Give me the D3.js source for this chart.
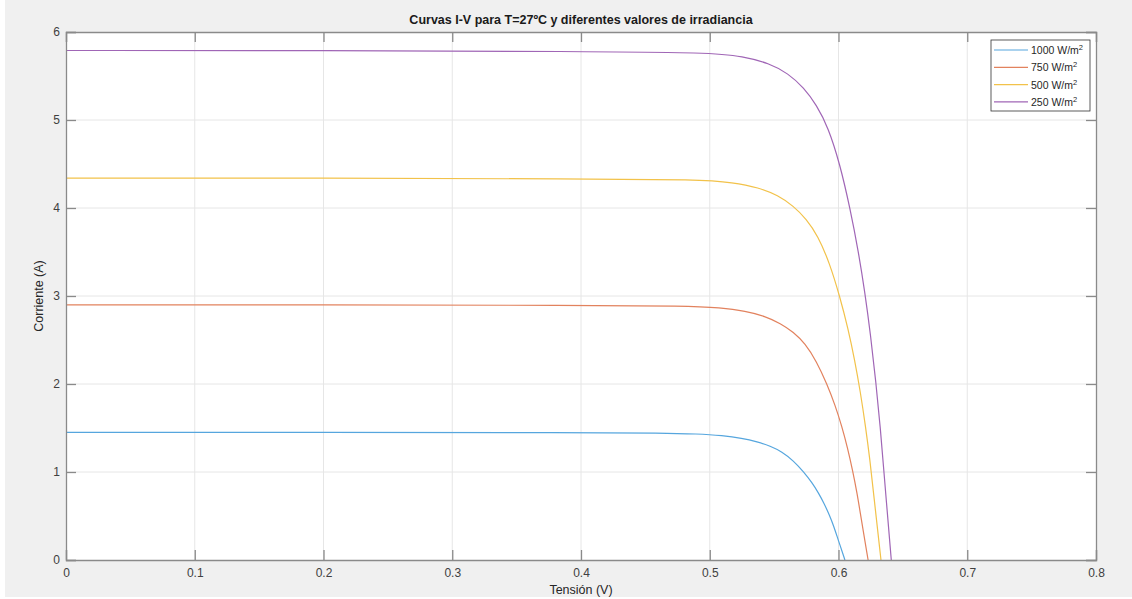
<!DOCTYPE html>
<html>
<head>
<meta charset="utf-8">
<script src="https://cdn.jsdelivr.net/npm/d3@7"></script>
<style>
  body { margin: 0; background: #fff; }
  text { font-family: "Liberation Sans", Arial, sans-serif; }
</style>
</head>
<body>
<div class="chart"></div>
<script>
// data
const labels = ["1000", "750", "500", "250"];
const colors = ["#56a6de", "#e2825e", "#f2c24a", "#a066b6"];

const v1000 = [0, 0.2, 0.4, 0.464, 0.490, 0.510, 0.525, 0.537, 0.547, 0.556, 0.565, 0.573, 0.5795, 0.5845, 0.589, 0.593, 0.5965, 0.5992, 0.605];
const i1000 = [1.45, 1.45, 1.447, 1.444, 1.433, 1.414, 1.385, 1.344, 1.295, 1.231, 1.128, 1.001, 0.877, 0.761, 0.638, 0.508, 0.377, 0.254, 0];

const v750 = [0, 0.2, 0.4, 0.482, 0.508, 0.528, 0.543, 0.555, 0.565, 0.574, 0.583, 0.591, 0.5975, 0.6025, 0.607, 0.611, 0.6145, 0.6172, 0.623];
const i750 = [2.90, 2.90, 2.894, 2.888, 2.867, 2.828, 2.770, 2.688, 2.590, 2.462, 2.256, 2.001, 1.755, 1.523, 1.276, 1.015, 0.754, 0.508, 0];

const v500 = [0, 0.2, 0.4, 0.492, 0.518, 0.538, 0.553, 0.565, 0.575, 0.584, 0.593, 0.601, 0.6075, 0.6125, 0.617, 0.621, 0.6245, 0.6272, 0.633];
const i500 = [4.34, 4.34, 4.331, 4.323, 4.290, 4.232, 4.145, 4.023, 3.876, 3.685, 3.377, 2.995, 2.626, 2.279, 1.910, 1.519, 1.128, 0.760, 0];

const v250 = [0, 0.2, 0.4, 0.500, 0.526, 0.546, 0.561, 0.573, 0.583, 0.592, 0.601, 0.609, 0.6155, 0.6205, 0.625, 0.629, 0.6325, 0.6352, 0.641];
const i250 = [5.79, 5.79, 5.778, 5.767, 5.723, 5.645, 5.529, 5.367, 5.170, 4.916, 4.505, 3.995, 3.503, 3.040, 2.548, 2.027, 1.505, 1.013, 0];

const xTicks = [0, 0.1, 0.2, 0.3, 0.4, 0.5, 0.6, 0.7, 0.8];
const yTicks = [0, 1, 2, 3, 4, 5, 6];

const series = [
  {v: v1000, i: i1000},
  {v: v750, i: i750},
  {v: v500, i: i500},
  {v: v250, i: i250}
].map((s, k) => ({label: labels[k], color: colors[k], pts: s.v.map((d, j) => [d, s.i[j]])}));

const W = 1132, H = 599;
const margin = {top: 32, right: 36, bottom: 39, left: 66};
const width = W - margin.left - margin.right;
const height = H - margin.top - margin.bottom;

const root = d3.select('.chart').append('svg')
    .attr("width", W)
    .attr("height", H);

root.append("rect").attr("x", 5).attr("y", 0).attr("width", W - 5).attr("height", H - 2).attr("fill", "#f0f0f0");

const svg = root.append("g")
    .attr("transform", "translate(" + margin.left + "," + margin.top + ")");

const xScale = d3.scaleLinear().domain([0, 0.8]).range([0, width]);
const yScale = d3.scaleLinear().domain([0, 6]).range([height, 0]);

svg.append("rect").attr("width", width).attr("height", height).attr("fill", "#fff");

// grid
svg.append("g").selectAll("line").data(xTicks.slice(1, -1)).enter().append("line")
    .attr("x1", d => xScale(d)).attr("x2", d => xScale(d))
    .attr("y1", 0).attr("y2", height)
    .attr("stroke", "#e6e6e6");
svg.append("g").selectAll("line").data(yTicks.slice(1, -1)).enter().append("line")
    .attr("y1", d => yScale(d)).attr("y2", d => yScale(d))
    .attr("x1", 0).attr("x2", width)
    .attr("stroke", "#e6e6e6");

// lines
const line = d3.line()
    .x(d => xScale(d[0]))
    .y(d => yScale(d[1]))
    .curve(d3.curveBasis);

svg.selectAll(".curve").data(series).enter().append("path")
    .attr("class", "curve")
    .attr("d", d => line(d.pts))
    .attr("fill", "none")
    .attr("stroke", d => d.color)
    .attr("stroke-width", 1.2);

// axes (ticks inward, box on)
const axisCol = "#8a8a8a";
const xAxis = d3.axisBottom(xScale).tickValues(xTicks).tickSize(-10).tickPadding(8).tickFormat(d3.format("~g"));
const yAxis = d3.axisLeft(yScale).tickValues(yTicks).tickSize(-10).tickPadding(6).tickFormat(d3.format("d"));
const xTop = d3.axisTop(xScale).tickValues(xTicks).tickSize(-10).tickFormat("");
const yRight = d3.axisRight(yScale).tickValues(yTicks).tickSize(-10).tickFormat("");

svg.append("g").attr("class", "axis").attr("transform", `translate(0, ${height})`).call(xAxis);
svg.append("g").attr("class", "axis").call(yAxis);
svg.append("g").attr("class", "axis").call(xTop);
svg.append("g").attr("class", "axis").attr("transform", `translate(${width}, 0)`).call(yRight);

svg.selectAll(".axis path").attr("stroke", axisCol).attr("stroke-width", 1.3);
svg.selectAll(".axis line").attr("stroke", axisCol).attr("stroke-width", 1.3);
svg.selectAll(".axis text").attr("fill", "#404040").attr("font-size", "12px")
    .attr("font-family", "'Liberation Sans', Arial, sans-serif");

// labels
svg.append("text")
    .attr("x", width / 2).attr("y", -8)
    .attr("text-anchor", "middle")
    .attr("font-size", "12.5px").attr("font-weight", "bold").attr("fill", "#1a1a1a")
    .text("Curvas I-V para T=27ºC y diferentes valores de irradiancia");

svg.append("text")
    .attr("x", width / 2).attr("y", height + 34)
    .attr("text-anchor", "middle")
    .attr("font-size", "12.5px").attr("fill", "#262626")
    .text("Tensión (V)");

svg.append("text")
    .attr("transform", `translate(-23, ${height / 2}) rotate(-90)`)
    .attr("text-anchor", "middle")
    .attr("font-size", "12.5px").attr("fill", "#262626")
    .text("Corriente (A)");

// legend
const lg = svg.append("g").attr("transform", `translate(${width - 105}, 8)`);
lg.append("rect").attr("width", 99).attr("height", 71)
    .attr("fill", "#fff").attr("stroke", "#333").attr("stroke-width", 0.8);

const rows = lg.selectAll(".row").data(series).enter().append("g")
    .attr("transform", (d, k) => `translate(0, ${10 + k * 17.3})`);
rows.append("line").attr("x1", 3).attr("x2", 37).attr("y1", 0).attr("y2", 0)
    .attr("stroke", d => d.color).attr("stroke-width", 1.2);
const t = rows.append("text").attr("x", 40).attr("y", 4)
    .attr("font-size", "10.5px").attr("fill", "#262626");
t.append("tspan").text(d => d.label + " W/m");
t.append("tspan").attr("dy", -4).attr("font-size", "7.5px").text("2");
</script>
</body>
</html>
